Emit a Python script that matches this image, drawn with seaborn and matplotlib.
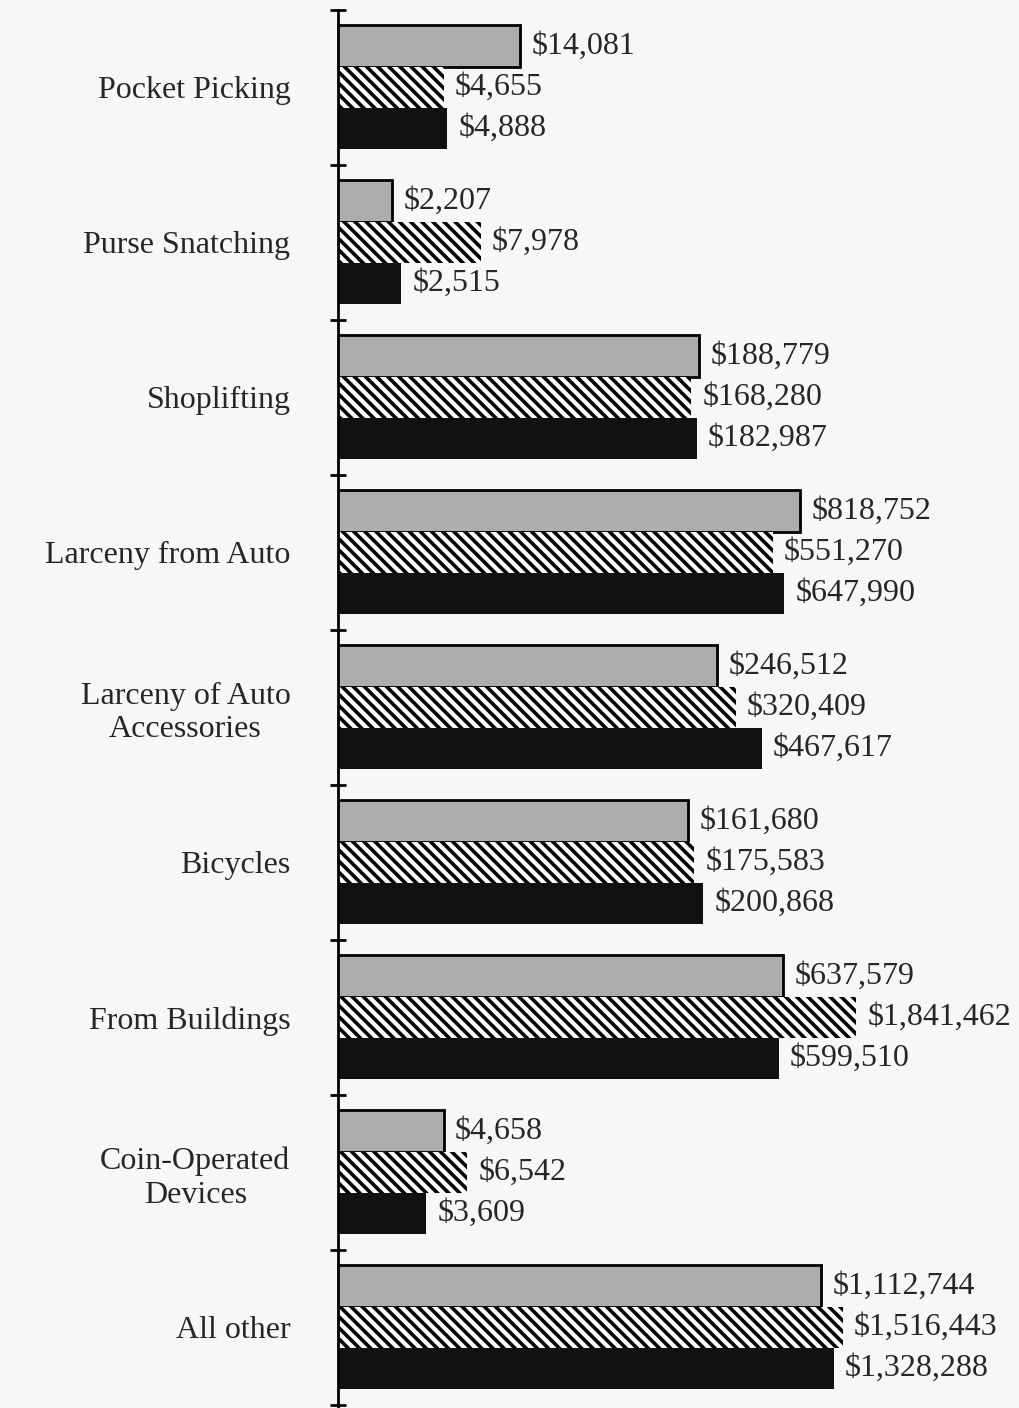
import pandas as pd
import matplotlib.pyplot as plt
import seaborn as sns
from matplotlib.ticker import NullLocator, FixedLocator

categorias = ["Pocket Picking", "Purse Snatching", "Shoplifting", "Larceny from Auto",
              "Larceny of Auto\nAccessories", "Bicycles", "From Buildings",
              "Coin-Operated\nDevices", "All other"]
serie_a = [14081, 2207, 188779, 818752, 246512, 161680, 637579, 4658, 1112744]
serie_b = [4655, 7978, 168280, 551270, 320409, 175583, 1841462, 6542, 1516443]
serie_c = [4888, 2515, 182987, 647990, 467617, 200868, 599510, 3609, 1328288]
series = ["A", "B", "C"]

df = pd.DataFrame({
    "categoria": categorias * 3,
    "valor": serie_a + serie_b + serie_c,
    "serie": [s for s in series for _ in categorias],
})

sns.set_style("white")
plt.rcParams["font.family"] = ["Liberation Serif", "DejaVu Serif"]
plt.rcParams["hatch.linewidth"] = 2.6

fig = plt.figure(figsize=(10.2, 14.08), dpi=100, facecolor="#f7f7f5")
ax = fig.add_axes([0.331, 0.0, 0.669, 0.993])
ax.set_facecolor("#f7f7f5")

sns.barplot(data=df, y="categoria", x="valor", hue="serie", orient="h",
            palette=["#adadad", "white", "#111111"], width=0.8,
            legend=False, ax=ax)

ax.set_xscale("log")
ax.set_xlim(1000, 1.98e7)
ax.set_ylim(8.52, -0.5)

# estilos das barras: cinza com borda, hachurada, preta
for bar in ax.containers[0]:
    bar.set_edgecolor("black")
    bar.set_linewidth(2)
for bar in ax.containers[1]:
    bar.set_hatch("\\\\\\")
    bar.set_edgecolor("black")
    bar.set_linewidth(0)
for bar in ax.containers[2]:
    bar.set_edgecolor("#111111")
    bar.set_linewidth(0)

vals = [serie_a, serie_b, serie_c]
for cont, v in zip(ax.containers, vals):
    ax.bar_label(cont, labels=[f"${x:,}" for x in v], padding=8, fontsize=23)

ax.set_xlabel("")
ax.set_ylabel("")
ax.xaxis.set_major_locator(NullLocator())
ax.xaxis.set_minor_locator(NullLocator())
ax.set_yticks(range(len(categorias)))
ax.set_yticklabels(categorias, fontsize=23, multialignment="center")
ax.tick_params(axis="y", which="major", length=0, pad=34)
ax.yaxis.set_minor_locator(FixedLocator([i - 0.5 for i in range(len(categorias) + 1)]))
ax.tick_params(axis="y", which="minor", left=True, direction="inout",
               length=12, width=2, color="black")

for s in ["top", "right", "bottom"]:
    ax.spines[s].set_visible(False)
ax.spines["left"].set_linewidth(2)
ax.spines["left"].set_color("black")

plt.savefig("out.png", dpi=100, facecolor=fig.get_facecolor())
